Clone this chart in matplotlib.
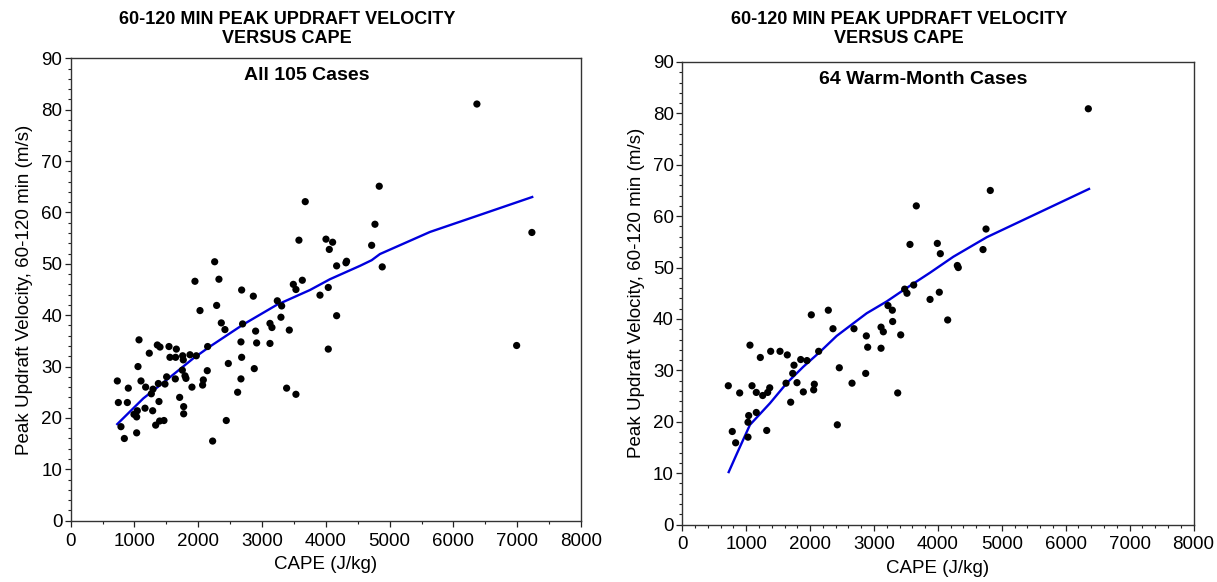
import matplotlib
matplotlib.use("Agg")
import matplotlib.pyplot as plt
from matplotlib.ticker import MultipleLocator

plt.rcParams['font.family'] = ['Liberation Sans', 'DejaVu Sans']

# ---- Left panel: all 105 cases ----
all_cape = [731, 903, 747, 888, 788, 841, 1071, 1232, 1055, 1102, 1175, 992, 1034, 1044, 1165,
            1034, 1285, 1332, 1394, 1462, 1384, 1264, 1290, 1374, 1478, 1504, 1358, 1400, 1541,
            1656, 1556, 1645, 1755, 1765, 1870, 1969, 1640, 1708, 1771, 1771, 1750, 1792, 1807,
            1901, 2079, 2068, 2141, 2147, 1948, 2027, 2257, 2324, 2288, 2361, 2418, 2471, 2439,
            2225, 2617, 2669, 2680, 2669, 2695, 2680, 2863, 2899, 2915, 2878, 3124, 3155, 3124,
            3239, 3307, 3296, 3427, 3385, 3531, 3490, 3531, 3631, 3578, 3908, 4038, 4038, 4002,
            4106, 4054, 4169, 4169, 4315, 4325, 3677, 6368, 4837, 4770, 4718, 4884, 7230, 6991]
all_w = [27.2, 25.8, 23.0, 23.0, 18.3, 16.0, 35.2, 32.6, 30.0, 27.2, 26.0, 20.7, 20.2, 21.4, 21.9,
         17.1, 21.4, 18.6, 19.4, 19.5, 23.2, 24.7, 25.6, 26.7, 26.6, 28.0, 34.2, 33.8, 33.9,
         33.4, 31.8, 31.8, 32.1, 31.3, 32.3, 32.1, 27.6, 24.0, 22.2, 20.8, 29.3, 28.2, 27.7,
         26.0, 27.4, 26.4, 29.2, 33.9, 46.6, 40.9, 50.4, 47.0, 41.9, 38.5, 37.2, 30.6, 19.5,
         15.5, 25.0, 27.6, 31.8, 34.8, 38.3, 44.9, 43.7, 36.9, 34.6, 29.6, 38.4, 37.6, 34.5,
         42.8, 41.8, 39.6, 37.1, 25.8, 24.6, 46.0, 45.0, 46.8, 54.6, 43.9, 45.4, 33.4, 54.8,
         54.2, 52.8, 49.6, 39.9, 50.2, 50.5, 62.1, 81.1, 65.1, 57.7, 53.6, 49.4, 56.1, 34.1]
all_fit_cape = [730, 1138, 1504, 1922, 2183, 2706, 3229, 3751, 4064, 4534, 4718, 4848, 5632, 6364, 7235]
all_fit_w = [18.8, 23.8, 27.4, 31.6, 33.9, 38.2, 42.0, 44.9, 47.0, 49.6, 50.7, 51.9, 56.2, 59.3, 63.0]

# ---- Right panel: 64 warm-month cases ----
warm_cape = [720, 782, 835, 898, 1059, 1091, 1039, 1028, 1028, 1158, 1158, 1221, 1258, 1321, 1336,
             1368, 1383, 1529, 1643, 1623, 1696, 1728, 1748, 1795, 1853, 1951, 1894, 2019, 2066,
             2056, 2134, 2285, 2358, 2457, 2426, 2656, 2687, 2880, 2901, 2870, 3110, 3146, 3110,
             3219, 3287, 3292, 3418, 3371, 3480, 3516, 3621, 3563, 3877, 3662, 6354, 4820, 3991,
             4038, 4753, 4706, 4304, 4319, 4022, 4153]
warm_w = [27.0, 18.1, 15.9, 25.6, 34.9, 27.0, 21.2, 19.9, 17.0, 25.7, 21.8, 32.5, 25.1, 18.3, 25.7,
          26.6, 33.7, 33.7, 33.0, 27.5, 23.8, 29.4, 31.0, 27.6, 32.1, 31.9, 25.8, 40.8, 27.3,
          26.2, 33.7, 41.7, 38.1, 30.5, 19.4, 27.5, 38.1, 36.7, 34.5, 29.4, 38.4, 37.5, 34.3,
          42.6, 41.7, 39.5, 36.9, 25.6, 45.8, 45.0, 46.6, 54.5, 43.8, 62.0, 80.9, 65.0, 54.7,
          52.7, 57.5, 53.5, 50.4, 50.0, 45.2, 39.8]
warm_fit_cape = [726, 851, 1059, 1372, 1634, 1894, 2155, 2416, 2885, 3198, 3459, 3877, 4241, 4764, 6365]
warm_fit_w = [10.2, 13.7, 19.4, 23.6, 27.5, 30.7, 33.6, 36.7, 41.1, 43.4, 45.6, 49.0, 52.1, 55.9, 65.3]

title_text = "60-120 MIN PEAK UPDRAFT VELOCITY\nVERSUS CAPE"
xlabel_text = "CAPE (J/kg)"
ylabel_text = "Peak Updraft Velocity, 60-120 min (m/s)"

fig = plt.figure(figsize=(12.17, 5.82), dpi=100)
W, H = 1217.0, 582.0

def make_axes(x0, x1, ytop, ybot):
    return fig.add_axes([x0 / W, 1 - ybot / H, (x1 - x0) / W, (ybot - ytop) / H])

ax1 = make_axes(70.7, 581.0, 58.3, 520.7)
ax2 = make_axes(682.3, 1193.5, 62.0, 524.5)

panels = [
    (ax1, all_cape, all_w, all_fit_cape, all_fit_w, "All 105 Cases", 500, 287, 307),
    (ax2, warm_cape, warm_w, warm_fit_cape, warm_fit_w, "64 Warm-Month Cases", 200, 899, 923),
]

for ax, cx, wy, fx, fy, sub, xminor, title_x, sub_x in panels:
    ax.plot(fx, fy, color='#0000dd', lw=1.7, zorder=2)
    ax.scatter(cx, wy, s=27, color='black', edgecolors='none', zorder=3)
    ax.set_xlim(0, 8000)
    ax.set_ylim(0, 90)
    ax.xaxis.set_major_locator(MultipleLocator(1000))
    ax.xaxis.set_minor_locator(MultipleLocator(xminor))
    ax.yaxis.set_major_locator(MultipleLocator(10))
    ax.yaxis.set_minor_locator(MultipleLocator(2))
    ax.tick_params(which='major', direction='out', length=4, width=0.9, labelsize=13.5, pad=2,
                   colors='#222222', labelcolor='black')
    ax.tick_params(axis='x', which='major', pad=4.5)
    ax.tick_params(which='minor', direction='out', length=2.5, width=0.8, colors='#222222')
    for sp in ax.spines.values():
        sp.set_color('#333333')
        sp.set_linewidth(1.0)
    ax.set_xlabel(xlabel_text, fontsize=13.5, labelpad=5)
    ax.set_ylabel(ylabel_text, fontsize=13.5, labelpad=6)
    fig.text(title_x / W, 1 - 29 / H, title_text, ha='center', va='center',
             fontsize=13, fontweight='bold', linespacing=1.12)
    bbox = ax.get_position()
    sub_frac = (sub_x / W - bbox.x0) / bbox.width
    ax.text(sub_frac, 0.953, sub, transform=ax.transAxes, ha='center', va='baseline',
            fontsize=14, fontweight='bold')

fig.savefig("out.png", dpi=100, facecolor='white')
